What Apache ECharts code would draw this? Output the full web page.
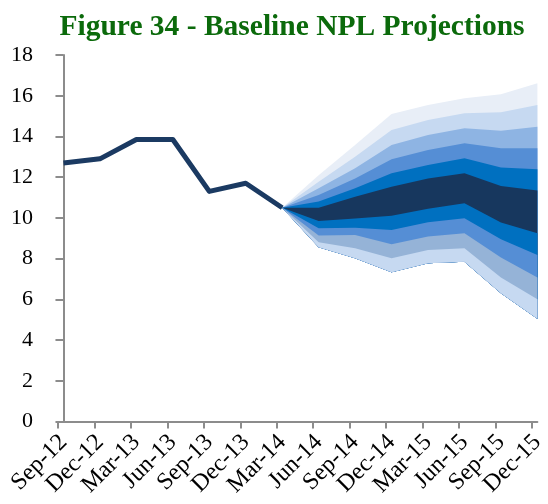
<!DOCTYPE html>
<html>
<head>
<meta charset="utf-8">
<title>Figure 34 - Baseline NPL Projections</title>
<script src="https://cdn.jsdelivr.net/npm/echarts@6/dist/echarts.min.js"></script>
<style>
  html, body { margin: 0; padding: 0; background: #ffffff; }
  #chart { width: 548px; height: 504px; }
</style>
</head>
<body>
<div id="chart"></div>
<script>
// Quarter labels for the whole period (history + projection)
const categories = ['Sep-12', 'Dec-12', 'Mar-13', 'Jun-13', 'Sep-13', 'Dec-13', 'Mar-14',
                    'Jun-14', 'Sep-14', 'Dec-14', 'Mar-15', 'Jun-15', 'Sep-15', 'Dec-15'];

// Observed NPL ratio, Sep-12 .. Mar-14
const history = [12.7, 12.9, 13.85, 13.85, 11.3, 11.7, 10.5];

// Projection fan boundaries, Mar-14 .. Dec-15 (lowest to highest)
const fanStart = 6; // index of Mar-14 in categories
const low4 = [10.5, 8.56, 8.02, 7.33, 7.77, 7.85, 6.30, 5.05];
const low3 = [10.5, 8.80, 8.51, 8.02, 8.42, 8.51, 7.07, 6.00];
const low2 = [10.5, 9.13, 9.16, 8.70, 9.08, 9.24, 8.05, 7.07];
const low1 = [10.5, 9.49, 9.52, 9.41, 9.78, 9.98, 8.95, 8.18];
const low0 = [10.5, 9.85, 9.97, 10.11, 10.45, 10.72, 9.77, 9.24];
const up0  = [10.5, 10.50, 11.04, 11.53, 11.94, 12.19, 11.57, 11.34];
const up1  = [10.5, 10.80, 11.45, 12.19, 12.60, 12.93, 12.48, 12.39];
const up2  = [10.5, 11.12, 11.94, 12.88, 13.33, 13.66, 13.42, 13.42];
const up3  = [10.5, 11.45, 12.44, 13.58, 14.07, 14.40, 14.28, 14.48];
const up4  = [10.5, 11.78, 13.00, 14.32, 14.81, 15.14, 15.19, 15.55];
const up5  = [10.5, 12.10, 13.58, 15.10, 15.55, 15.87, 16.07, 16.61];

// Y axis ticks
const yTicks = [0, 2, 4, 6, 8, 10, 12, 14, 16, 18];

// Each layer is filled from the fan floor (low4) up to its boundary,
// painted from the outermost layer inwards so that bands share edges cleanly.
const layers = [
  { top: up5,  color: '#E8EEF7' },
  { top: up4,  color: '#C6D9F1' },
  { top: up3,  color: '#8EB4E3' },
  { top: up2,  color: '#558ED5' },
  { top: up1,  color: '#0070C0' },
  { top: up0,  color: '#17375E' },
  { top: low0, color: '#0070C0' },
  { top: low1, color: '#558ED5' },
  { top: low2, color: '#95B3D7' },
  { top: low3, color: '#C6D9F1' }
];

// Category tick marks sit slightly left of the data points
const TICK_SHIFT = -0.15;
const tickVals = categories.map((_, i) => i + TICK_SHIFT);
const labelVals = categories.map((_, i) => i);

const serif = 'Liberation Serif, Times New Roman, serif';
const axisGrey = '#8C8C8C';

function layerSeries(top, floor, color, order) {
  return {
    type: 'custom', silent: true, z: 1,
    data: top.map((v, i) => [fanStart + i, floor[i], v]),
    encode: { x: 0, y: [1, 2] },
    renderItem: (params, api) => {
      if (params.dataIndex !== 0) return null;
      const upper = top.map((v, i) => api.coord([fanStart + i, v]));
      const lower = floor.map((v, i) => api.coord([fanStart + i, v])).reverse();
      return {
        type: 'polygon', z2: order,
        shape: { points: upper.concat(lower) },
        style: { fill: color }
      };
    }
  };
}

const series = layers.map((l, k) => layerSeries(l.top, low4, l.color, k));
// historical line
series.push({
  type: 'line', symbol: 'none', silent: true,
  lineStyle: { color: '#1B3A62', width: 5, join: 'round', cap: 'butt' },
  data: history.map((v, i) => [i, v]),
  z: 3
});

const chart = echarts.init(document.getElementById('chart'), null, { renderer: 'canvas' });
chart.setOption({
  animation: false,
  backgroundColor: '#ffffff',
  title: {
    text: 'Figure 34 - Baseline NPL Projections',
    left: 287, top: 7, textAlign: 'center',
    textStyle: { fontFamily: serif, fontWeight: 'bold', fontSize: 29.5, color: '#0B6A0B' }
  },
  grid: { left: 58, right: 5, top: 55, bottom: 82.5, containLabel: false },
  xAxis: {
    type: 'value',
    min: TICK_SHIFT, max: categories.length - 1,
    splitLine: { show: false },
    axisLine: { show: true, lineStyle: { color: axisGrey, width: 2 } },
    axisTick: { show: true, length: 7, customValues: tickVals, lineStyle: { color: axisGrey, width: 2 } },
    axisLabel: {
      customValues: labelVals,
      rotate: 45, margin: 17,
      fontFamily: serif, fontSize: 24, color: '#000000',
      formatter: v => categories[Math.round(v)] || ''
    }
  },
  yAxis: {
    type: 'value', min: yTicks[0], max: yTicks[yTicks.length - 1], interval: 2,
    splitLine: { show: false },
    axisLine: { show: true, lineStyle: { color: axisGrey, width: 2 } },
    axisTick: { show: true, length: 8, lineStyle: { color: axisGrey, width: 2 } },
    axisLabel: { margin: 25, fontFamily: serif, fontSize: 22, color: '#000000' }
  },
  series: series
});
</script>
</body>
</html>
